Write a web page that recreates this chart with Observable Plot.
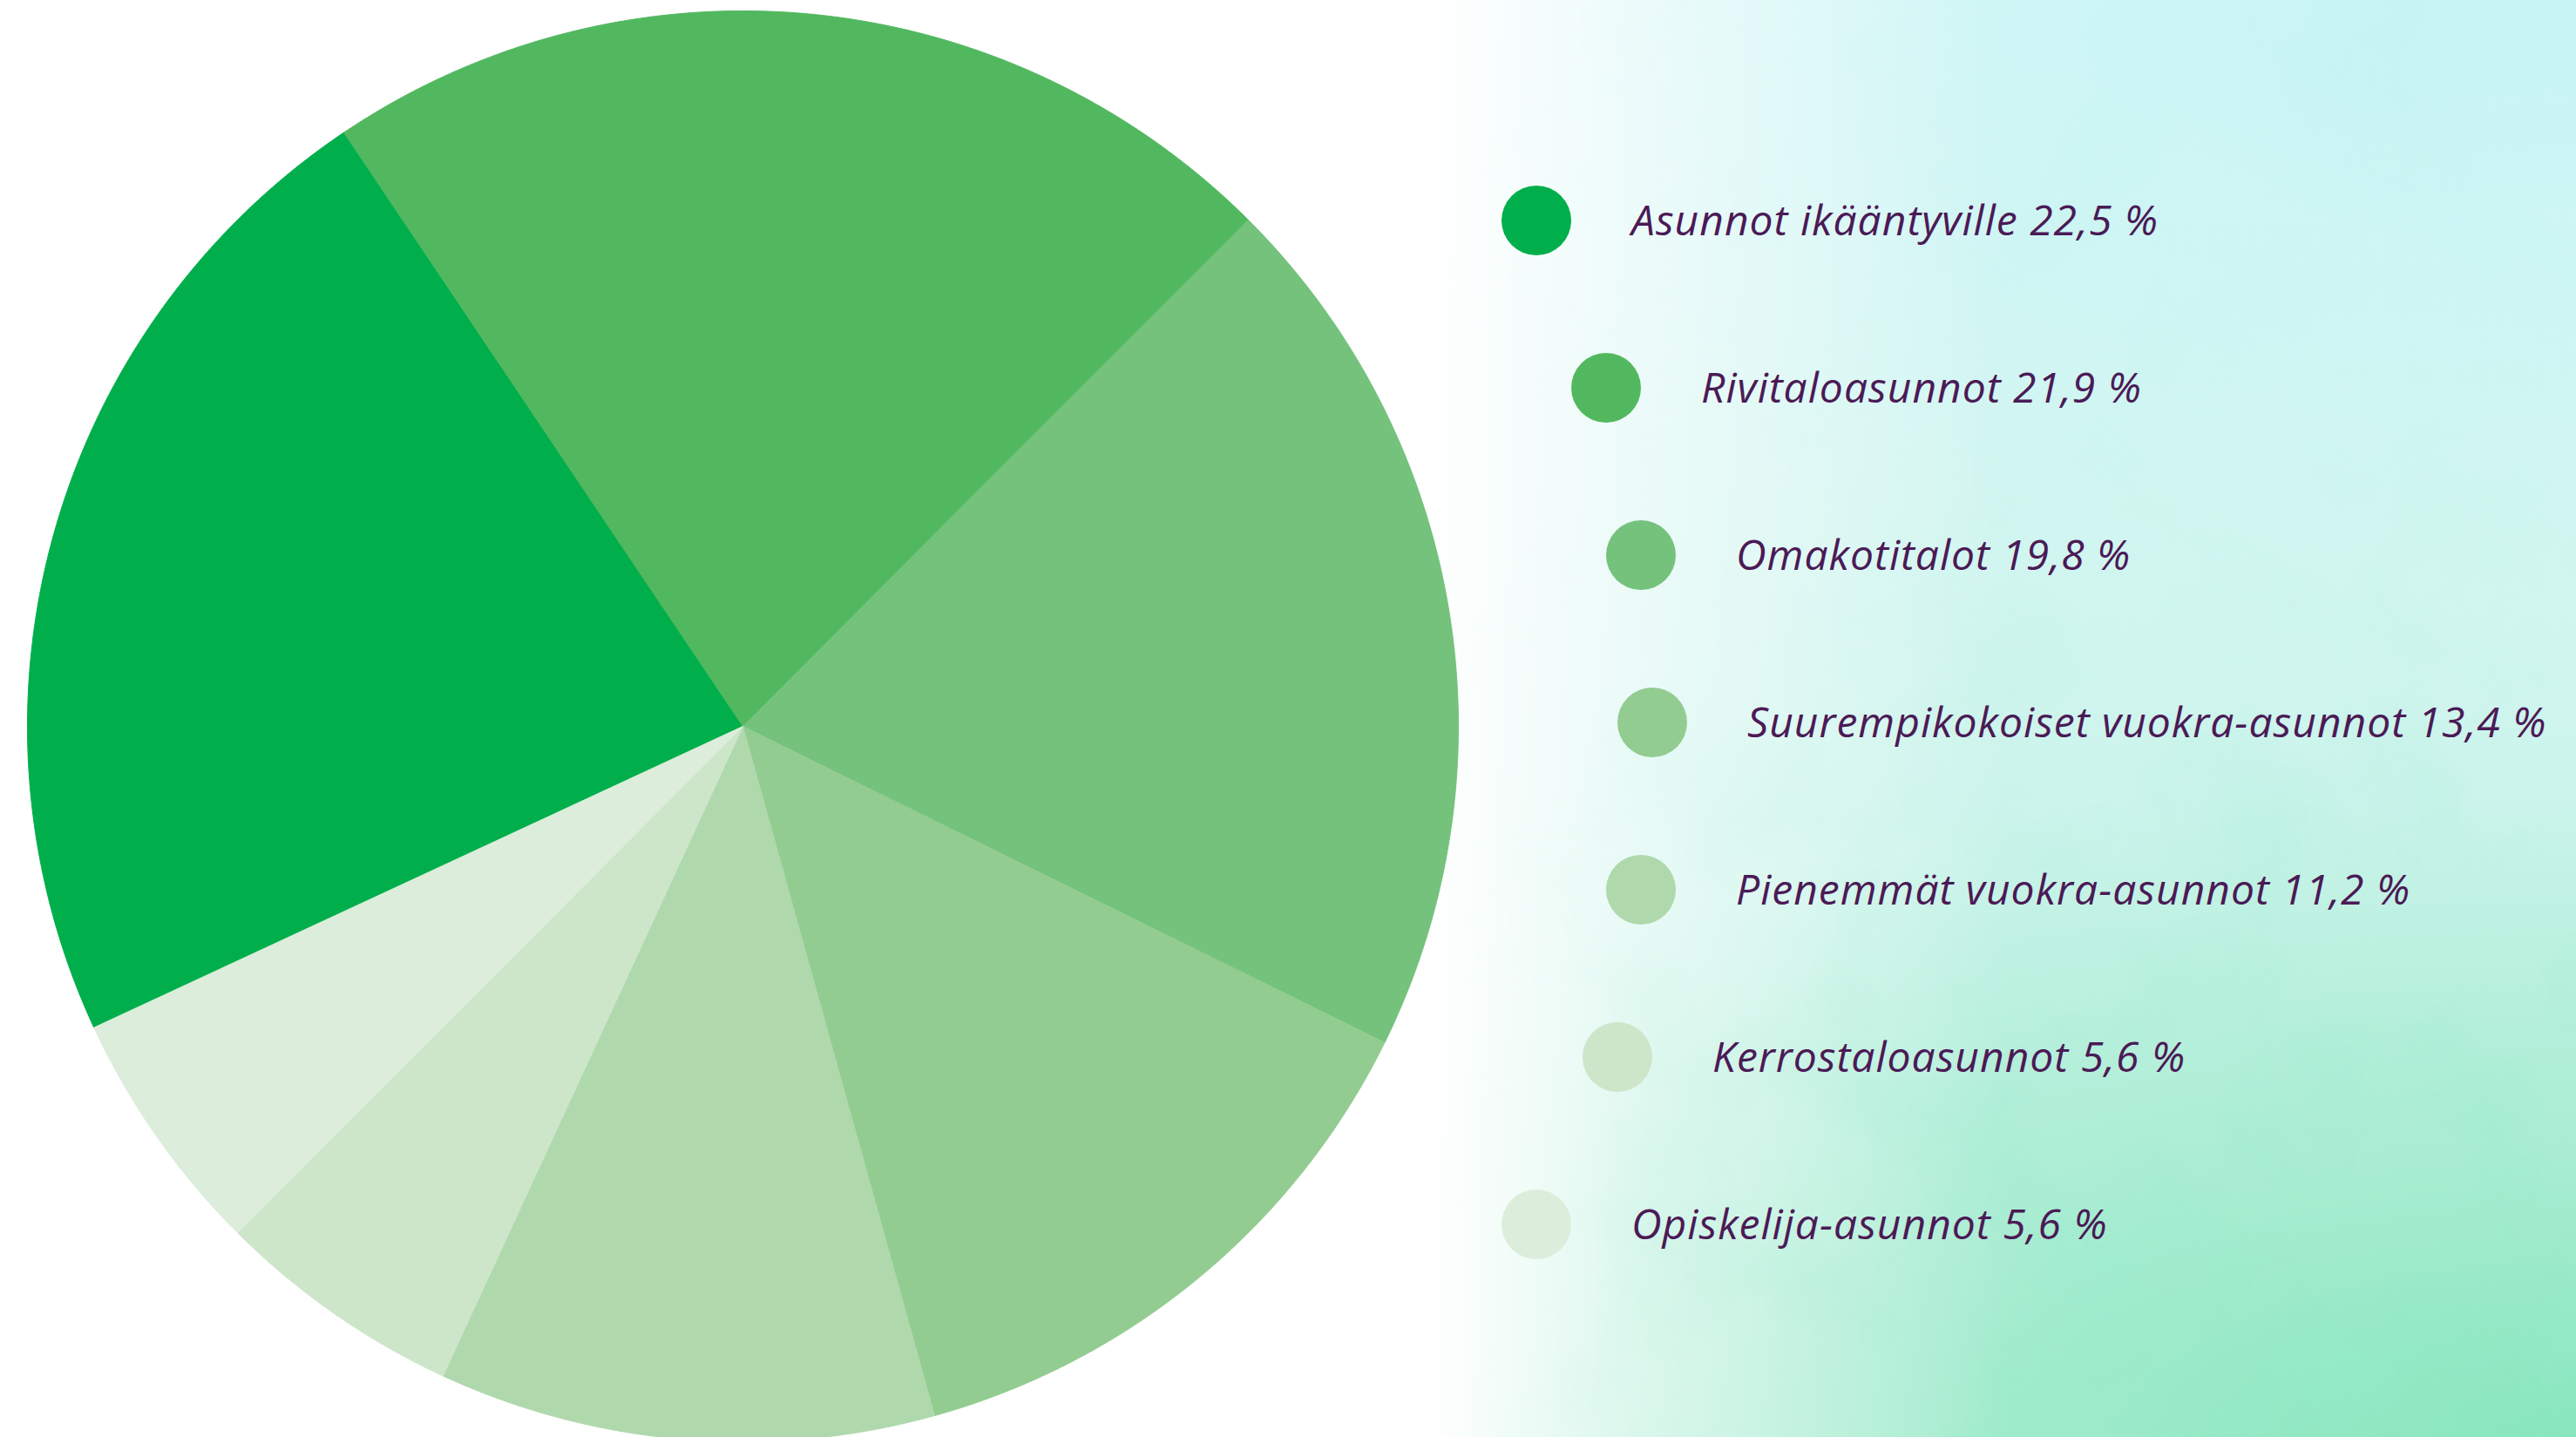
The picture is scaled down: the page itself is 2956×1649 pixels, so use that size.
<!DOCTYPE html>
<html>
<head>
<meta charset="utf-8">
<script src="https://cdn.jsdelivr.net/npm/d3@7"></script>
<script src="https://cdn.jsdelivr.net/npm/@observablehq/plot@0.6"></script>
<style>
  html, body { margin: 0; padding: 0; }
  body {
    width: 2956px; height: 1649px; overflow: hidden; position: relative;
    background:
      linear-gradient(to right, #ffffff 0%, #ffffff 55.5%, rgba(255,255,255,0.6) 63%, rgba(255,255,255,0) 78%),
      radial-gradient(ellipse 60% 45% at 100% 100%, rgba(115,226,175,0.7) 0%, rgba(140,231,190,0.45) 45%, rgba(165,236,205,0) 100%),
      radial-gradient(ellipse 42% 38% at 97% 0%, rgba(198,244,245,0.9) 0%, rgba(205,245,243,0) 100%),
      linear-gradient(to bottom, #d6f7f6 0%, #d0f5ef 45%, #b9f0dd 100%);
    font-family: "Open Sans", "Noto Sans", sans-serif;
  }
  #tex { position: absolute; left: 0; top: 0; }
  #chart { position: absolute; left: 0; top: 0; }
  .dot { position: absolute; width: 80px; height: 80px; border-radius: 50%; }
  .lab { position: absolute; white-space: nowrap; font-style: italic; font-size: 48px; letter-spacing: 1px; line-height: 60px; color: #4b1a56; }
</style>
</head>
<body>
<svg id="tex" width="2956" height="1649">
  <defs>
    <filter id="wc" x="0" y="0" width="100%" height="100%">
      <feTurbulence type="fractalNoise" baseFrequency="0.006" numOctaves="5" seed="7" result="n"/>
      <feColorMatrix in="n" type="matrix"
        values="0 0 0 0 0.30
                0 0 0 0 0.85
                0 0 0 0 0.62
                2.4 0 0 0 -1.15"/>
    </filter>
    <linearGradient id="fadeX" x1="0" x2="1" y1="0" y2="0">
      <stop offset="0.56" stop-color="#fff" stop-opacity="0"/>
      <stop offset="0.75" stop-color="#fff" stop-opacity="0.6"/>
      <stop offset="1" stop-color="#fff" stop-opacity="1"/>
    </linearGradient>
    <linearGradient id="fadeY" x1="0" x2="0" y1="0" y2="1">
      <stop offset="0.35" stop-color="#fff" stop-opacity="0.1"/>
      <stop offset="1" stop-color="#fff" stop-opacity="1"/>
    </linearGradient>
    <mask id="m">
      <rect width="2956" height="1649" fill="url(#fadeX)"/>
    </mask>
    <mask id="m2">
      <rect width="2956" height="1649" fill="url(#fadeY)"/>
    </mask>
  </defs>
  <g mask="url(#m)"><g mask="url(#m2)"><rect width="2956" height="1649" filter="url(#wc)" opacity="0.55"/></g></g>
</svg>
<div id="chart"></div>
<div id="legend"></div>
<script>
// ---- data ----
const categories = [
  "Asunnot ikääntyville",
  "Rivitaloasunnot",
  "Omakotitalot",
  "Suurempikokoiset vuokra-asunnot",
  "Pienemmät vuokra-asunnot",
  "Kerrostaloasunnot",
  "Opiskelija-asunnot"
];
const values = [22.5, 21.9, 19.8, 13.4, 11.2, 5.6, 5.6];
const labels = ["22,5 %", "21,9 %", "19,8 %", "13,4 %", "11,2 %", "5,6 %", "5,6 %"];
const colors = ["#00af4b", "#52b860", "#74c27c", "#93cc91", "#afd9ad", "#cde6ca", "#ddeddc"];

// ---- layout (styling only) ----
const startDeg = 245.1;
const legendDotX = [1763, 1843, 1883, 1896, 1883, 1856, 1763];
const legendTop = 253, legendStep = 192;

// ---- build slice outlines from the pie layout ----
const a0 = startDeg * Math.PI / 180;
const arcs = d3.pie().sort(null).value(d => d).startAngle(a0).endAngle(a0 + 2 * Math.PI)(values);
const rows = [];
arcs.forEach((a, i) => {
  const cat = categories[i];
  rows.push({cat, x: 0, y: 0});
  const n = Math.max(2, Math.ceil((a.endAngle - a.startAngle) / (Math.PI / 720)));
  for (let k = 0; k <= n; k++) {
    const t = a.startAngle + (a.endAngle - a.startAngle) * k / n;
    rows.push({cat, x: Math.sin(t), y: Math.cos(t)});
  }
  rows.push({cat, x: 0, y: 0});
});

const plot = Plot.plot({
  width: 1710,
  height: 1649,
  margin: 0,
  style: {background: "transparent", overflow: "hidden"},
  x: {domain: [-1, 1], range: [31, 1673], axis: null},
  y: {domain: [-1, 1], range: [1654, 12], axis: null},
  color: {domain: categories, range: colors},
  marks: [
    Plot.line(rows, {x: "x", y: "y", z: "cat", fill: "cat", stroke: "cat", strokeWidth: 1, curve: "linear"})
  ]
});
document.getElementById("chart").appendChild(plot);

// ---- legend ----
const legend = document.getElementById("legend");
categories.forEach((c, i) => {
  const cy = legendTop + i * legendStep;
  const dot = document.createElement("div");
  dot.className = "dot";
  dot.style.left = (legendDotX[i] - 40) + "px";
  dot.style.top = (cy - 40) + "px";
  dot.style.background = colors[i];
  legend.appendChild(dot);
  const lab = document.createElement("div");
  lab.className = "lab";
  lab.style.left = (legendDotX[i] + 109) + "px";
  lab.style.top = (cy - 31) + "px";
  lab.textContent = c + " " + labels[i];
  legend.appendChild(lab);
});
</script>
</body>
</html>
